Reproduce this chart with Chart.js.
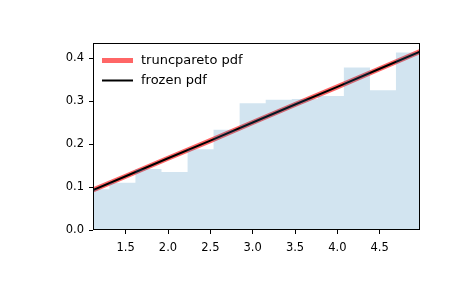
<!DOCTYPE html>
<html>
<head>
<meta charset="utf-8">
<script src="https://cdn.jsdelivr.net/npm/chart.js@4/dist/chart.umd.min.js"></script>
<style>
  body { margin: 0; background: #fff; }
  canvas { display: block; }
</style>
</head>
<body>
<canvas id="pdfChart" width="465" height="288"></canvas>
<script>
// histogram of the random sample (density=True)
const binEdges = [1.0, 1.308, 1.615, 1.923, 2.231, 2.538, 2.846, 3.154, 3.462, 3.769, 4.077, 4.385, 4.692, 5.0];
const density = [0.095, 0.110, 0.142, 0.135, 0.188, 0.233, 0.295, 0.303, 0.305, 0.312, 0.378, 0.325, 0.413];

// pdf curves
const lineX = [1.114, 1.5, 2.0, 2.5, 3.0, 3.5, 4.0, 4.5, 4.976];
const truncPdf = [0.093, 0.125, 0.167, 0.208, 0.250, 0.292, 0.333, 0.375, 0.415];
const frozenPdf = [0.093, 0.125, 0.167, 0.208, 0.250, 0.292, 0.333, 0.375, 0.415];

const xTicks = [1.5, 2.0, 2.5, 3.0, 3.5, 4.0, 4.5];
const yTicks = [0.0, 0.1, 0.2, 0.3, 0.4];

const xMin = 1.114, xMax = 4.976;
const yMin = 0, yMax = 0.435;

Chart.defaults.font.family = '"DejaVu Sans", sans-serif';
Chart.defaults.color = '#000';

const histPoints = binEdges.map((e, i) => ({ x: e, y: density[Math.min(i, density.length - 1)] }));
const toPoints = (xs, ys) => xs.map((x, i) => ({ x: x, y: ys[i] }));

// axes frame (all four spines)
const frame = {
    id: 'frame',
    afterDatasetsDraw(chart) {
        const a = chart.chartArea;
        const ctx = chart.ctx;
        ctx.save();
        ctx.strokeStyle = '#000';
        ctx.lineWidth = 1;
        ctx.strokeRect(Math.round(a.left) + 0.5, Math.round(a.top) + 0.5,
            Math.round(a.right - a.left) - 1, Math.round(a.bottom - a.top) - 1);
        ctx.restore();
    }
};

// legend drawn inside the axes, upper left, no frame
const innerLegend = {
    id: 'innerLegend',
    afterDraw(chart) {
        const ctx = chart.ctx;
        const a = chart.chartArea;
        let y = a.top + 17.5;
        ctx.save();
        chart.data.datasets.forEach(ds => {
            if (!ds.showInLegend) return;
            ctx.beginPath();
            ctx.strokeStyle = ds.borderColor;
            ctx.lineWidth = ds.borderWidth;
            ctx.moveTo(a.left + 9, y);
            ctx.lineTo(a.left + 40, y);
            ctx.stroke();
            ctx.fillStyle = '#000';
            ctx.font = '13px "DejaVu Sans"';
            ctx.textBaseline = 'middle';
            ctx.fillText(ds.label, a.left + 48, y);
            y += 20;
        });
        ctx.restore();
    }
};

new Chart(document.getElementById('pdfChart'), {
    type: 'line',
    data: {
        datasets: [
            {
                label: 'sample',
                data: histPoints,
                stepped: 'before',
                fill: 'origin',
                backgroundColor: 'rgba(31, 119, 180, 0.2)',
                borderColor: 'rgba(0, 0, 0, 0)',
                borderWidth: 0,
                pointRadius: 0,
                order: 0
            },
            {
                label: 'truncpareto pdf',
                data: toPoints(lineX, truncPdf),
                borderColor: 'rgba(255, 0, 0, 0.6)',
                borderWidth: 5,
                pointRadius: 0,
                fill: false,
                showInLegend: true,
                order: 2
            },
            {
                label: 'frozen pdf',
                data: toPoints(lineX, frozenPdf),
                borderColor: '#000',
                borderWidth: 2,
                pointRadius: 0,
                fill: false,
                showInLegend: true,
                order: 1
            }
        ]
    },
    options: {
        responsive: false,
        animation: false,
        layout: { padding: { left: 0, right: 45, top: 43, bottom: 0 } },
        plugins: {
            legend: { display: false },
            tooltip: { enabled: false }
        },
        scales: {
            x: {
                type: 'linear',
                min: xMin,
                max: xMax,
                afterFit: s => { s.height = 58; },
                afterBuildTicks: s => { s.ticks = xTicks.map(v => ({ value: v })); },
                grid: { drawOnChartArea: false, drawTicks: true, tickLength: 4, tickColor: '#000', lineWidth: 1 },
                border: { display: false },
                ticks: { font: { size: 11.5 }, padding: 7, maxRotation: 0, callback: v => v.toFixed(1) }
            },
            y: {
                type: 'linear',
                min: yMin,
                max: yMax,
                afterFit: s => { s.width = 93; },
                afterBuildTicks: s => { s.ticks = yTicks.map(v => ({ value: v })); },
                grid: { drawOnChartArea: false, drawTicks: true, tickLength: 4, tickColor: '#000', lineWidth: 1 },
                border: { display: false },
                ticks: { font: { size: 11.5 }, padding: 5, callback: v => v.toFixed(1) }
            }
        }
    },
    plugins: [frame, innerLegend]
});
</script>
</body>
</html>
